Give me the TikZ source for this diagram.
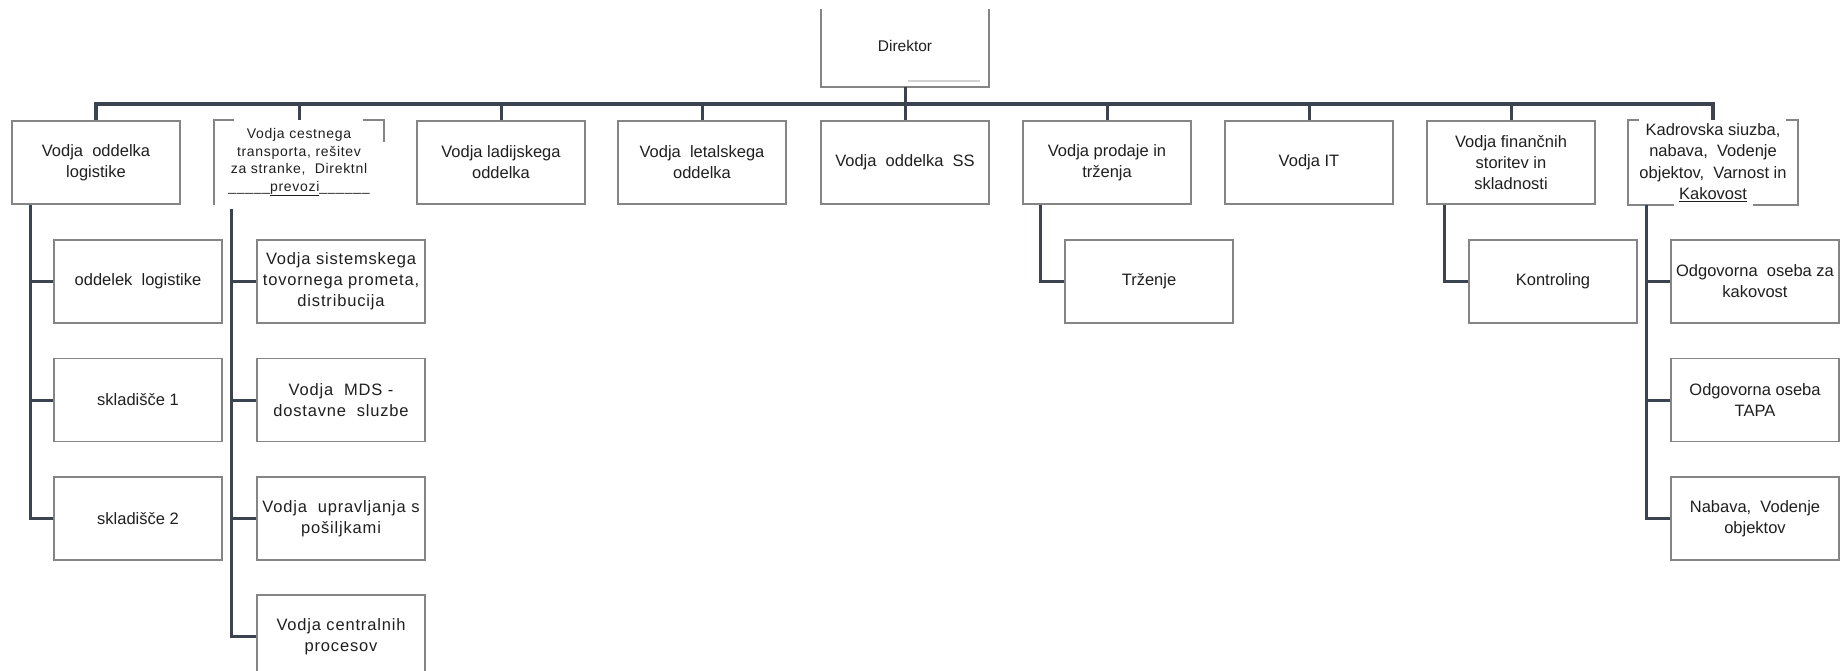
\documentclass[tikz,border=0pt]{standalone}
\usepackage{fontspec}
\setmainfont{Liberation Sans}
\usepackage{xcolor}
\usetikzlibrary{positioning}

\definecolor{boxgray}{HTML}{858585}
\definecolor{linkgray}{HTML}{3C4350}

\tikzset{
  unit/.style={draw=boxgray, line width=1.8pt, minimum width=168pt, minimum height=83pt,
    inner sep=1pt, align=center, text=black!88, font=\fontsize{16.5}{21}\selectfont},
  spaced/.style={font=\fontsize{16.5}{21}\selectfont\addfontfeatures{LetterSpace=5}},
  small/.style={font=\fontsize{14}{17.5}\selectfont\addfontfeatures{LetterSpace=5}},
  open/.style={draw=none},
  boxline/.style={draw=boxgray, line width=1.8pt},
  link/.style={draw=linkgray, line width=3pt},
}

\begin{document}
\begin{tikzpicture}[x=1pt, y=-1pt]
    \useasboundingbox (0,0) rectangle (1841,670);
    \clip (0,0) rectangle (1841,670);

    % director
    \node(Dir) at (905,48) [unit, open, minimum width=166pt, minimum height=76pt,
      font=\fontsize{15.5}{18}\selectfont] {\raisebox{4pt}{Direktor}};
    \draw[boxline] (Dir.north west) |- (Dir.south east) -- (Dir.north east);
    \draw[gray!35, line width=1.2pt] ([xshift=3pt,yshift=6pt]Dir.south) -- ([xshift=75pt,yshift=6pt]Dir.south);

    % first level
    \node(Log) at (96,162.5) [unit] {Vodja\ \ oddelka\\logistike};
    \node(Ces) at (299,162.5) [unit, open, small] {Vodja cestnega\\transporta, rešitev\\za stranke,\ \ Direktnl\\
      \_\_\_\_\_\underline{prevozi}\_\_\_\_\_\_};
    \draw[boxline] ([xshift=20pt]Ces.north west) -- (Ces.north west) -- (Ces.south west);
    \draw[boxline] ([xshift=-21pt]Ces.north east) -- (Ces.north east) -- ([yshift=-22pt]Ces.north east);
    \node(Lad) at (501,162.5) [unit] {Vodja ladijskega\\oddelka};
    \node(Let) at (702,162.5) [unit] {Vodja\ \ letalskega\\oddelka};
    \node(SS) at (905,162.5) [unit] {Vodja\ \ oddelka\ \ SS};
    \node(Pro) at (1107,162.5) [unit] {Vodja prodaje in\\trženja};
    \node(IT) at (1309,162.5) [unit] {Vodja IT};
    \node(Fin) at (1511,162.5) [unit] {Vodja finančnih\\storitev in\\skladnosti};
    \node(Kad) at (1713,162.5) [unit, open, font=\fontsize{16.5}{21.5}\selectfont]
      {Kadrovska siuzba,\\nabava,\ \ Vodenje\\objektov,\ \ Varnost in\\\underline{Kakovost}};
    \draw[boxline] ([xshift=11pt]Kad.north west) -- (Kad.north west) -- (Kad.south west) -- ([xshift=46pt]Kad.south west);
    \draw[boxline] ([xshift=-12pt]Kad.north east) -- (Kad.north east) -- (Kad.south east) -- ([xshift=-45pt]Kad.south east);

    % second level
    \node(Log1) at (138,281.5) [unit] {oddelek\ \ logistike};
    \node(Log2) at (138,400) [unit] {skladišče 1};
    \node(Log3) at (138,518.5) [unit] {skladišče 2};
    \node(Ces1) at (341,281.5) [unit, spaced] {Vodja sistemskega\\tovornega prometa,\\distribucija};
    \node(Ces2) at (341,400) [unit, spaced] {Vodja\ \ MDS -\\dostavne\ \ sluzbe};
    \node(Ces3) at (341,518.5) [unit, spaced] {Vodja\ \ upravljanja s\\pošiljkami};
    \node(Ces4) at (341,636.5) [unit, spaced] {Vodja centralnih\\procesov};
    \node(Trz) at (1149,281.5) [unit] {Trženje};
    \node(Kon) at (1553,281.5) [unit] {Kontroling};
    \node(Kad1) at (1755,281.5) [unit] {Odgovorna\ \ oseba za\\kakovost};
    \node(Kad2) at (1755,400) [unit] {Odgovorna oseba\\TAPA};
    \node(Kad3) at (1755,518.5) [unit] {Nabava,\ \ Vodenje\\objektov};

    % connectors
    \coordinate(bus) at (0,104);
    \draw[link, line width=3.5pt] (Log.north) -- (Log.north |- bus) -- (Kad.north |- bus) -- (Kad.north);
    \foreach \n in {Ces,Lad,Let,SS,Pro,IT,Fin}
      \draw[link] (\n.north) -- (\n.north |- bus);
    \draw[link] (Dir.south) -- (Dir.south |- bus);

    \foreach \c in {Log1,Log2,Log3}
      \draw[link] ([xshift=19pt]Log.south west) |- (\c.west);
    \foreach \c in {Ces1,Ces2,Ces3,Ces4}
      \draw[link] ([xshift=17pt,yshift=-4pt]Ces.south west) |- (\c.west);
    \draw[link] ([xshift=18pt]Pro.south west) |- (Trz.west);
    \draw[link] ([xshift=18pt]Fin.south west) |- (Kon.west);
    \foreach \c in {Kad1,Kad2,Kad3}
      \draw[link] ([xshift=18pt]Kad.south west) |- (\c.west);
\end{tikzpicture}
\end{document}
